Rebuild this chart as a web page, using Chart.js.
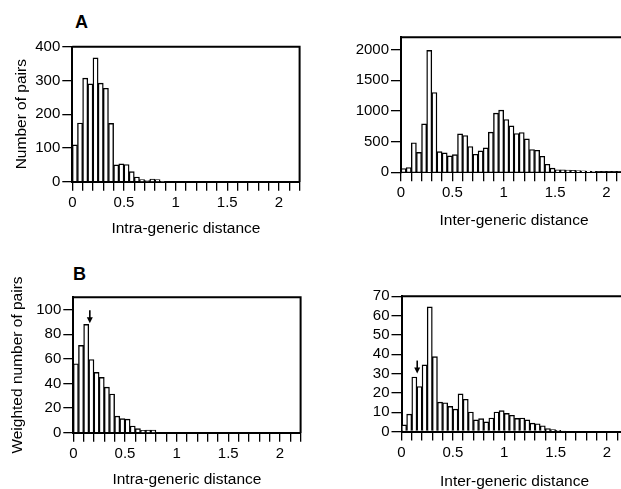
<!DOCTYPE html>
<html lang="en">
<head>
<meta charset="UTF-8">
<title>Distance histograms</title>
<script src="https://cdn.jsdelivr.net/npm/chart.js"></script>
<style>
  html, body { margin: 0; padding: 0; background: #fff; overflow: hidden; }
  body { width: 621px; height: 489px; position: relative; }
  canvas { position: absolute; }
  .tag { position: absolute; font: bold 18px "Liberation Sans", Arial, sans-serif; line-height: 18px; color: #000; }
</style>
</head>
<body>
<div class="tag" style="left:75px; top:13px">A</div>
<div class="tag" style="left:73px; top:265px">B</div>

<canvas id="intraCount" width="310" height="245" style="left:0; top:0"></canvas>
<canvas id="interCount" width="330" height="245" style="left:310px; top:0"></canvas>
<canvas id="intraWeight" width="310" height="250" style="left:0; top:245px"></canvas>
<canvas id="interWeight" width="330" height="250" style="left:310px; top:245px"></canvas>

<script>
// histogram bin width (distance units)
const BIN = 0.05;

// labelled ticks on the distance axis
const xTickLabels = [0, 0.5, 1, 1.5, 2];

// A: number of pairs per bin
const intraPairs = [109, 174, 307, 290, 367, 292, 277, 173, 50, 53, 51, 30, 14, 6, 3, 8, 6, 1];
const interPairs = [62, 78, 482, 325, 790, 1986, 1300, 338, 316, 267, 289, 627, 600, 420, 294, 349, 398, 654,
                    965, 1014, 861, 757, 632, 649, 545, 371, 360, 262, 131, 68, 40, 40, 35, 32, 28, 25,
                    20, 15, 10, 10, 8, 8, 8, 8];

// B: weighted number of pairs per bin
const intraWeighted = [56, 71, 88, 59.5, 49, 45, 37, 31.4, 13.5, 11.4, 11, 5.4, 3.3, 2, 2.2, 2.2];
const interWeighted = [3.4, 9, 28.2, 23.3, 34.5, 64.5, 38.8, 15.2, 14.9, 13, 11.6, 19.5, 16.7, 10.1, 6, 6.7,
                       5, 7, 10.1, 10.8, 9.4, 8.4, 6.8, 7, 6, 4.3, 4, 3, 1.5, 1, 0.6, 0.2];

// y axis ticks
const intraPairsTicks = [0, 100, 200, 300, 400];
const interPairsTicks = [0, 500, 1000, 1500, 2000];
const intraWeightedTicks = [0, 20, 40, 60, 80, 100];
const interWeightedTicks = [0, 10, 20, 30, 40, 50, 60, 70];

// arrows in B: [distance, value at arrow tip]
const intraArrow = [0.16, 89];
const interArrow = [0.153, 30];

const FONT = '"Liberation Sans", Arial, Helvetica, sans-serif';

// draws the top and right sides of the box
const frame = {
    id: 'frame',
    afterDatasetsDraw(chart) {
        const { ctx, chartArea: a } = chart;
        ctx.save();
        ctx.strokeStyle = '#000';
        ctx.lineWidth = 2;
        ctx.beginPath();
        ctx.moveTo(a.left, a.top);
        ctx.lineTo(a.right, a.top);
        ctx.lineTo(a.right, a.bottom);
        ctx.stroke();
        ctx.restore();
    }
};

// little downward arrow marking a value
const arrowMark = {
    id: 'arrowMark',
    afterDatasetsDraw(chart, args, opts) {
        if (!opts.at) return;
        const x = chart.scales.x.getPixelForValue(opts.at[0]);
        const y = chart.scales.y.getPixelForValue(opts.at[1]);
        const ctx = chart.ctx;
        ctx.save();
        ctx.strokeStyle = '#000';
        ctx.fillStyle = '#000';
        ctx.lineWidth = 1.6;
        ctx.beginPath();
        ctx.moveTo(x, y - 13);
        ctx.lineTo(x, y - 4);
        ctx.stroke();
        ctx.beginPath();
        ctx.moveTo(x - 3, y - 6);
        ctx.lineTo(x + 3, y - 6);
        ctx.lineTo(x, y);
        ctx.closePath();
        ctx.fill();
        ctx.restore();
    }
};

function histogram(id, counts, cfg) {
    const points = counts.map((c, i) => ({ x: (i + 0.5) * BIN, y: c }));
    return new Chart(document.getElementById(id), {
        type: 'bar',
        data: {
            datasets: [{
                data: points,
                backgroundColor: '#fff',
                borderColor: '#000',
                borderWidth: 1.4,
                barPercentage: 1,
                categoryPercentage: 1
            }]
        },
        options: {
            responsive: false,
            animation: false,
            layout: { padding: cfg.pad },
            plugins: {
                legend: { display: false },
                tooltip: { enabled: false },
                arrowMark: { at: cfg.arrow }
            },
            scales: {
                x: {
                    type: 'linear',
                    min: 0,
                    max: 2.2,
                    offset: false,
                    grid: { drawOnChartArea: false, drawTicks: true, tickLength: 9, color: '#000', lineWidth: 1.3, offset: false },
                    border: { color: '#000', width: 2 },
                    ticks: {
                        stepSize: 0.1,
                        autoSkip: false,
                        maxRotation: 0,
                        padding: 3,
                        color: '#000',
                        font: { size: 15, family: FONT },
                        callback: v => {
                            const t = xTickLabels.find(l => Math.abs(l - v) < 1e-6);
                            return t === undefined ? '' : String(t);
                        }
                    },
                    title: {
                        display: true,
                        text: cfg.xTitle,
                        color: '#000',
                        font: { size: 15.5, family: FONT },
                        padding: { top: 0, bottom: cfg.xTitlePad }
                    },
                    afterFit: s => { s.height = cfg.xHeight; }
                },
                y: {
                    min: 0,
                    max: cfg.yMax,
                    grid: { drawOnChartArea: false, drawTicks: true, tickLength: 10, color: '#000', lineWidth: 1.3 },
                    border: { color: '#000', width: 2 },
                    ticks: {
                        autoSkip: false,
                        padding: 2,
                        color: '#000',
                        font: { size: 15, family: FONT },
                        callback: v => String(v)
                    },
                    title: {
                        display: !!cfg.yTitle,
                        text: cfg.yTitle || '',
                        color: '#000',
                        font: { size: 15.5, family: FONT },
                        padding: { top: cfg.yTitlePad || 0, bottom: 0 }
                    },
                    afterBuildTicks: s => { s.ticks = cfg.yTicks.map(v => ({ value: v })); },
                    afterFit: s => { s.width = cfg.yWidth; }
                }
            }
        },
        plugins: [frame, arrowMark]
    });
}

histogram('intraCount', intraPairs, {
    pad: { left: 0, top: 46.7, right: 10.4, bottom: 0 },
    yWidth: 72.3, xHeight: 63.3,
    yMax: 400, yTicks: intraPairsTicks,
    yTitle: 'Number of pairs', yTitlePad: 12,
    xTitle: 'Intra-generic distance', xTitlePad: 7
});

histogram('interCount', interPairs, {
    pad: { left: 0, top: 37.3, right: 13, bottom: 0 },
    yWidth: 91, xHeight: 72.7,
    yMax: 2200, yTicks: interPairsTicks,
    xTitle: 'Inter-generic distance', xTitlePad: 15.3
});

histogram('intraWeight', intraWeighted, {
    pad: { left: 0, top: 52.3, right: 9.4, bottom: 0 },
    yWidth: 73.3, xHeight: 62.3,
    yMax: 110, yTicks: intraWeightedTicks,
    yTitle: 'Weighted number of pairs', yTitlePad: 8,
    xTitle: 'Intra-generic distance', xTitlePad: 6,
    arrow: intraArrow
});

histogram('interWeight', interWeighted, {
    pad: { left: 0, top: 51.3, right: 12.5, bottom: 0 },
    yWidth: 91.5, xHeight: 63.5,
    yMax: 70, yTicks: interWeightedTicks,
    xTitle: 'Inter-generic distance', xTitlePad: 4.3,
    arrow: interArrow
});
</script>
</body>
</html>
